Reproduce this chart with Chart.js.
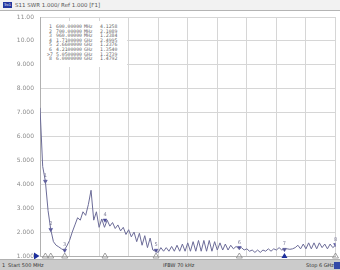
<!DOCTYPE html>
<html>
<head>
<meta charset="utf-8">
<script src="https://cdn.jsdelivr.net/npm/chart.js@4.4.0/dist/chart.umd.min.js"></script>
<style>
  html, body { margin: 0; padding: 0; background: #fff; }
  #quadro { position: relative; width: 340px; height: 270px; overflow: hidden; font-family: "DejaVu Sans", sans-serif; }
  #grafico { position: absolute; left: 0; top: 0; }
  #cabecalho { position: absolute; left: 0; top: 0; width: 340px; height: 10px; background: #f2f2f2; border-bottom: 1px solid #b4b4b4; font-size: 5.5px; line-height: 10px; color: #555; white-space: nowrap; }
  #trc { position: absolute; left: 3px; top: 2px; width: 9px; height: 6px; background: #23379f; color: #fff; font-size: 3.5px; line-height: 6px; text-align: center; }
  #titulo { position: absolute; left: 15px; top: 0; }
  #tabela { position: absolute; left: 41px; top: 21px; width: 86px; height: 46px; background: #fff; font-family: "DejaVu Sans Mono", monospace; font-size: 4.8px; color: #666; }
  #tabela div { position: absolute; height: 5px; line-height: 5px; white-space: nowrap; }
  #rodape { position: absolute; left: 0; top: 259px; width: 340px; height: 11px; background: #cbcbcb; border-top: 1px solid #b0b0b0; font-size: 5px; line-height: 11px; color: #333; white-space: nowrap; }
  #rodape span { position: absolute; top: 0; }
  #caixaStop { position: absolute; left: 334px; top: 2px; width: 6px; height: 7px; background: #3449a8; }
</style>
</head>
<body>
<div id="quadro">
  <canvas id="grafico" width="340" height="270"></canvas>
  <div id="cabecalho"><div id="trc">Trc1</div><span id="titulo">S11 SWR 1.000/ Ref 1.000 [F1]</span></div>
  <div id="tabela"></div>
  <div id="rodape">
    <span style="left:2px">1</span>
    <span style="left:8px">Start 500 MHz</span>
    <span style="left:163px">IFBW 70 kHz</span>
    <span style="left:306px">Stop 6 GHz</span>
    <div id="caixaStop"></div>
  </div>
</div>
<script>
// sweep points (GHz) and SWR
const frequencias = [
  0.50, 0.55, 0.60, 0.65, 0.70, 0.75, 0.80, 0.85, 0.90, 0.95,
  1.00, 1.05, 1.10, 1.15, 1.20, 1.25, 1.30, 1.35, 1.40, 1.45,
  1.50, 1.55, 1.60, 1.65, 1.70, 1.75, 1.80, 1.85, 1.90, 1.95,
  2.00, 2.05, 2.10, 2.15, 2.20, 2.25, 2.30, 2.35, 2.40, 2.45,
  2.50, 2.55, 2.60, 2.65, 2.70, 2.75, 2.80, 2.85, 2.90, 2.95,
  3.00, 3.05, 3.10, 3.15, 3.20, 3.25, 3.30, 3.35, 3.40, 3.45,
  3.50, 3.55, 3.60, 3.65, 3.70, 3.75, 3.80, 3.85, 3.90, 3.95,
  4.00, 4.05, 4.10, 4.15, 4.20, 4.25, 4.30, 4.35, 4.40, 4.45,
  4.50, 4.55, 4.60, 4.65, 4.70, 4.75, 4.80, 4.85, 4.90, 4.95,
  5.00, 5.05, 5.10, 5.15, 5.20, 5.25, 5.30, 5.35, 5.40, 5.45,
  5.50, 5.55, 5.60, 5.65, 5.70, 5.75, 5.80, 5.85, 5.90, 5.95,
  6.00
];
const swr = [
  7.2, 4.75, 4.13, 2.9, 2.11, 1.6, 1.45, 1.38, 1.3, 1.24,
  1.42, 1.65, 2.0, 2.3, 2.6, 2.5, 2.85, 2.7, 3.15, 3.75,
  2.5, 2.85, 2.2, 2.55, 2.2, 2.5, 2.25, 2.4, 2.15, 2.3,
  2.05, 2.2, 1.9, 2.1, 1.8, 2.0, 1.6, 1.95, 1.45, 1.85,
  1.35, 1.75, 1.25, 1.2, 1.15, 1.35, 1.2, 1.35, 1.2, 1.4,
  1.2, 1.45, 1.2, 1.5, 1.2, 1.55, 1.2, 1.6, 1.2, 1.65,
  1.2, 1.65, 1.2, 1.65, 1.2, 1.6, 1.25, 1.55, 1.25, 1.5,
  1.25, 1.45, 1.3, 1.4, 1.3, 1.35, 1.25, 1.3, 1.2, 1.25,
  1.15, 1.25, 1.15, 1.25, 1.2, 1.3, 1.2, 1.3, 1.25, 1.35,
  1.25, 1.3, 1.3, 1.28, 1.3, 1.35, 1.45, 1.3, 1.5, 1.3,
  1.55, 1.3, 1.55, 1.3, 1.55, 1.35, 1.5, 1.3, 1.5, 1.35,
  1.45
];
const yTicks = [1, 2, 3, 4, 5, 6, 7, 8, 9, 10, 11];
const xGrade = [0.5, 1.05, 1.6, 2.15, 2.7, 3.25, 3.8, 4.35, 4.9, 5.45, 6.0];

const marcadoresNum = [1, 2, 3, 4, 5, 6, 7, 8];
const marcadoresFreq = [0.6, 0.7, 0.96, 1.71, 2.66, 4.21, 5.05, 6.0];
const marcadoresSwr = [4.1258, 2.1089, 1.2384, 2.4995, 1.2376, 1.3540, 1.2739, 1.4792];
const marcadorAtivo = 7;

// marker list box
const tabela = document.getElementById('tabela');
marcadoresNum.forEach((n, i) => {
  const f = marcadoresFreq[i];
  const txtFreq = f < 1 ? (f * 1000).toFixed(5) : f.toFixed(7);
  const unidade = f < 1 ? 'MHz' : 'GHz';
  const topo = 3 + i * 4.6;
  const linha = [
    [n === marcadorAtivo ? 6 : 8, (n === marcadorAtivo ? '>' : '') + n],
    [15, txtFreq],
    [43, unidade],
    [59, marcadoresSwr[i].toFixed(4)]
  ];
  linha.forEach(([esq, txt]) => {
    const d = document.createElement('div');
    d.style.left = esq + 'px';
    d.style.top = topo + 'px';
    d.textContent = txt;
    tabela.appendChild(d);
  });
});

const extras = {
  id: 'extras',
  afterDraw(chart) {
    const ctx = chart.ctx;
    const x = chart.scales.x;
    const y = chart.scales.y;
    const base = y.getPixelForValue(yTicks[0]);
    ctx.save();
    // reference level arrow
    ctx.fillStyle = '#1d2f9c';
    ctx.beginPath();
    ctx.moveTo(34, base - 3.5);
    ctx.lineTo(39.5, base);
    ctx.lineTo(34, base + 3.5);
    ctx.closePath();
    ctx.fill();
    // marker triangles along the bottom
    marcadoresFreq.forEach((f, i) => {
      const px = x.getPixelForValue(f);
      ctx.beginPath();
      ctx.moveTo(px, base - 3);
      ctx.lineTo(px + 3, base + 2);
      ctx.lineTo(px - 3, base + 2);
      ctx.closePath();
      if (marcadoresNum[i] === marcadorAtivo) {
        ctx.fillStyle = '#1d2f9c';
        ctx.fill();
      } else {
        ctx.strokeStyle = '#8a8a8a';
        ctx.lineWidth = 0.8;
        ctx.stroke();
      }
      // number above the marker on the trace
      const py = y.getPixelForValue(marcadoresSwr[i]);
      ctx.fillStyle = '#7a7a96';
      ctx.font = '5px "DejaVu Sans"';
      ctx.textAlign = 'center';
      ctx.fillText(String(marcadoresNum[i]), px, py - 4);
    });
    ctx.restore();
  }
};

const canva = document.getElementById('grafico');
new Chart(canva, {
  type: 'line',
  data: {
    datasets: [{
      label: 'S11 SWR',
      data: frequencias.map((f, i) => ({ x: f, y: swr[i] })),
      borderColor: '#6c6c98',
      borderWidth: 1,
      pointRadius: 0,
      tension: 0
    }, {
      label: 'Marcadores',
      data: marcadoresFreq.map((f, i) => ({ x: f, y: marcadoresSwr[i] })),
      showLine: false,
      pointStyle: 'triangle',
      rotation: 180,
      pointRadius: 2.2,
      backgroundColor: '#4a4a98',
      borderColor: '#4a4a98',
      borderWidth: 0.5
    }]
  },
  options: {
    responsive: false,
    animation: false,
    layout: { padding: { left: 0, right: 1, top: 17, bottom: 14 } },
    plugins: {
      legend: { display: false },
      tooltip: { enabled: false }
    },
    scales: {
      x: {
        type: 'linear',
        min: 0.5,
        max: 6,
        afterBuildTicks: (eixo) => { eixo.ticks = xGrade.map(v => ({ value: v })); },
        ticks: { display: false },
        grid: { color: '#d6d6d6', lineWidth: 1, drawTicks: false },
        border: { color: '#b0b0b0' }
      },
      y: {
        min: 1,
        max: 11,
        afterBuildTicks: (eixo) => { eixo.ticks = yTicks.map(v => ({ value: v })); },
        afterFit: (eixo) => { eixo.width = 40; },
        ticks: {
          padding: 6,
          color: '#8c8c8c',
          font: { family: 'DejaVu Sans', size: 6 },
          callback: (v) => v >= 10 ? v.toFixed(2) : v.toFixed(3)
        },
        grid: { color: '#d6d6d6', lineWidth: 1, drawTicks: false },
        border: { color: '#b0b0b0' }
      }
    }
  },
  plugins: [extras]
});
</script>
</body>
</html>
